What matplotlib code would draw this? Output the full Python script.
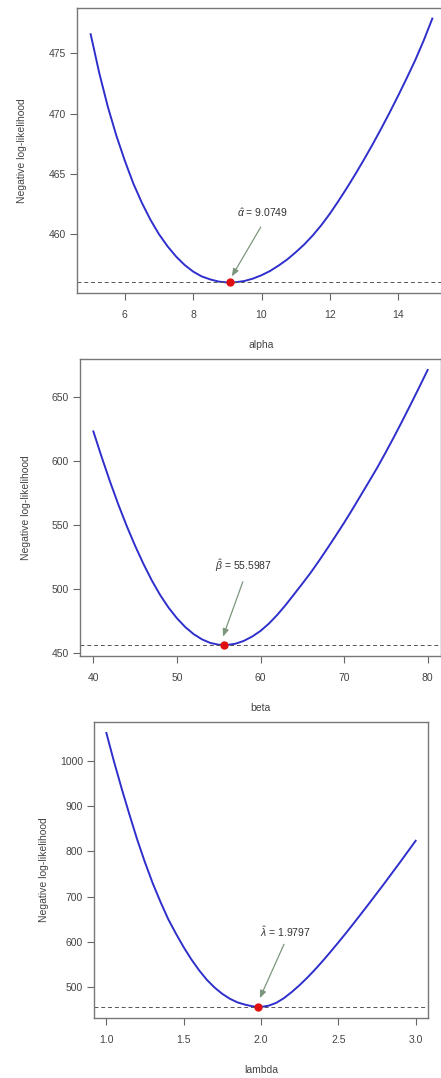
import numpy as np
import matplotlib
matplotlib.use("Agg")
import matplotlib.pyplot as plt

plt.rcParams['font.family'] = ['Liberation Sans', 'DejaVu Sans']
plt.rcParams['mathtext.fontset'] = 'custom'
plt.rcParams['mathtext.rm'] = 'Liberation Sans'
plt.rcParams['mathtext.it'] = 'Liberation Sans:italic'

# profile negative log-likelihood
alpha_x = [5.0, 5.25, 5.5, 5.75, 6.0, 6.25, 6.5, 6.75, 7.0, 7.25, 7.5, 7.75, 8.0, 8.25,
           8.5, 8.75, 9.0, 9.25, 9.5, 9.75, 10.0, 10.25, 10.5, 10.75, 11.0, 11.25, 11.5,
           11.75, 12.0, 12.25, 12.5, 12.75, 13.0, 13.25, 13.5, 13.75, 14.0, 14.25, 14.5,
           14.75, 15.0]
alpha_nll = [476.6, 473.4, 470.6, 468.2, 466.1, 464.2, 462.6, 461.2, 460.0, 459.0, 458.15,
             457.45, 456.9, 456.5, 456.25, 456.07, 456.0, 456.02, 456.12, 456.32, 456.6,
             456.95, 457.4, 457.9, 458.5, 459.15, 459.9, 460.75, 461.7, 462.75, 463.85,
             465.0, 466.2, 467.45, 468.75, 470.1, 471.5, 472.95, 474.45, 476.1, 477.9]

beta_x = [40, 41, 42, 43, 44, 45, 46, 47, 48, 49, 50, 51, 52, 53, 54, 55, 56, 57, 58, 59,
          60, 61, 62, 63, 64, 65, 66, 67, 68, 69, 70, 71, 72, 73, 74, 75, 76, 77, 78, 79, 80]
beta_nll = [623.0, 602.8, 583.6, 565.6, 548.9, 533.5, 519.3, 506.4, 495.0, 485.2, 476.9,
            470.0, 464.5, 460.4, 457.6, 456.2, 456.0, 457.0, 459.2, 462.6, 467.0, 472.7,
            479.5, 487.2, 495.5, 503.9, 512.5, 521.8, 531.5, 541.4, 551.5, 562.1, 573.0,
            583.9, 595.0, 606.8, 619.0, 631.6, 644.5, 657.6, 671.0]

lambda_x = [1.0, 1.05, 1.1, 1.15, 1.2, 1.25, 1.3, 1.35, 1.4, 1.45, 1.5, 1.55, 1.6, 1.65,
            1.7, 1.75, 1.8, 1.85, 1.9, 1.95, 2.0, 2.05, 2.1, 2.15, 2.2, 2.25, 2.3, 2.35,
            2.4, 2.45, 2.5, 2.55, 2.6, 2.65, 2.7, 2.75, 2.8, 2.85, 2.9, 2.95, 3.0]
lambda_nll = [1061, 997, 937, 880, 825, 775, 729, 688, 650, 618, 588, 561, 537, 516,
              499, 485, 474, 466, 461, 457.3, 456.2, 459.0, 465.5, 476.0, 489.5, 504.5,
              521.0, 539.0, 558.0, 578.0, 598.5, 619.5, 641.0, 663.0, 685.0, 707.5,
              730.0, 753.0, 776.0, 799.5, 823.0]

min_nll = 456.0
alpha_hat = 9.0749
beta_hat = 55.5987
lambda_hat = 1.9797

panels = [
    dict(x=alpha_x, y=alpha_nll, hat=alpha_hat, name='alpha', sym=r'$\hat{\alpha}$',
         pos=[77, 8, 369, 285], xt=[6, 8, 10, 12, 14], xtl=['6', '8', '10', '12', '14'],
         yt=[460, 465, 470, 475], txt=(10.02, 461.8), tail=(10.02, 460.8), head=(9.09, 456.3),
         ylab_px=27),
    dict(x=beta_x, y=beta_nll, hat=beta_hat, name='beta', sym=r'$\hat{\beta}$',
         pos=[80, 359, 361, 297], xt=[40, 50, 60, 70, 80], xtl=['40', '50', '60', '70', '80'],
         yt=[450, 500, 550, 600, 650], txt=(58.0, 517.7), tail=(58.0, 507.5), head=(55.4, 460.5),
         ylab_px=31),
    dict(x=lambda_x, y=lambda_nll, hat=lambda_hat, name='lambda', sym=r'$\hat{\lambda}$',
         pos=[94, 722, 334, 296], xt=[1.0, 1.5, 2.0, 2.5, 3.0], xtl=['1.0', '1.5', '2.0', '2.5', '3.0'],
         yt=[500, 600, 700, 800, 900, 1000], txt=(2.156, 622), tail=(2.156, 600), head=(1.985, 470),
         ylab_px=49),
]

W, H = 441, 1078
fig = plt.figure(figsize=(W / 100, H / 100), dpi=100)

for p in panels:
    l, t, w, h = p['pos']
    ax = fig.add_axes([l / W, (H - t - h) / H, w / W, h / H])
    ax.plot(p['x'], p['y'], color='#2f2fcc', lw=1.4, solid_joinstyle='round')
    ax.margins(x=0.04, y=0.04)
    ax.axhline(min_nll, color='#555555', lw=0.7, ls=(0, (4, 3)))
    ax.plot([p['hat']], [min_nll], 'o', color='#e01010', ms=5)
    ax.annotate('', xy=p['head'], xytext=p['tail'],
                arrowprops=dict(arrowstyle='-|>,head_length=0.45,head_width=0.18',
                                color='#7c967c', lw=0.9))
    ax.text(p['txt'][0], p['txt'][1], p['sym'] + ' = ' + f"{p['hat']:.4f}",
            ha='center', va='center', fontsize=7.5, color='#333333')
    ax.set_xticks(p['xt'])
    ax.set_xticklabels(p['xtl'])
    ax.set_yticks(p['yt'])
    ax.tick_params(labelsize=7.5, labelcolor='#444444', color='#666666',
                   length=5, width=0.8, pad=7)
    ax.tick_params(axis='y', pad=3)
    for s in ax.spines.values():
        s.set_color('#777777')
        s.set_linewidth(1.0)
    ax.set_xlabel(p['name'], fontsize=7.5, color='#444444')
    ax.xaxis.set_label_coords(0.5, -47 / h)
    ax.set_ylabel('Negative log-likelihood', fontsize=7.5, color='#444444')
    ax.yaxis.set_label_coords((p['ylab_px'] - l) / w, 0.5)

fig.savefig('out.png', dpi=100)
